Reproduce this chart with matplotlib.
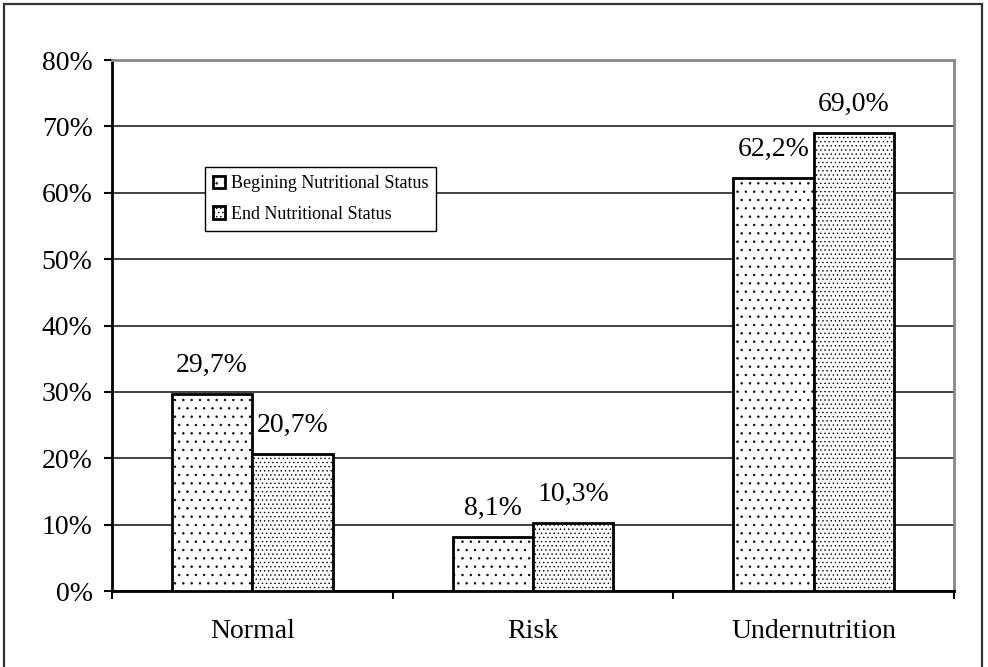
import numpy as np
import matplotlib
matplotlib.use('Agg')
from matplotlib import pyplot as plt
from matplotlib.patches import Rectangle, Patch
from matplotlib.ticker import FixedLocator

plt.rcParams['font.family'] = ['Liberation Serif', 'DejaVu Serif']
plt.rcParams['hatch.linewidth'] = 0.5

categories = ['Normal', 'Risk', 'Undernutrition']
begin_status = [29.7, 8.1, 62.2]
end_status = [20.7, 10.3, 69.0]
series_names = ['Begining Nutritional Status', 'End Nutritional Status']
yticks = [0, 10, 20, 30, 40, 50, 60, 70, 80]

fig = plt.figure(figsize=(9.88, 6.67), dpi=100)
ax = fig.add_axes([0.1134, 0.1139, 0.8522, 0.796])

# outer frame around the figure (bottom edge falls off the page)
fig.patches.append(Rectangle((4/988, -0.05), 982/988 - 4/988, 1.05 - 4/667,
                             transform=fig.transFigure, fill=False,
                             edgecolor='#333333', linewidth=1.6))

x = np.arange(len(categories))
w = 0.2865
b1 = ax.bar(x - w/2, begin_status, w, color='white', edgecolor='black',
            hatch='..', linewidth=2.0, zorder=3)
b2 = ax.bar(x + w/2, end_status, w, color='white', edgecolor='black',
            hatch='....', linewidth=2.0, zorder=3)

for bars, vals in ((b1, begin_status), (b2, end_status)):
    for r, v in zip(bars, vals):
        ax.annotate(('%.1f%%' % v).replace('.', ','),
                    (r.get_x() + r.get_width()/2, v),
                    xytext=(0, 16), textcoords='offset points',
                    ha='center', va='baseline', fontsize=20)

ax.set_xlim(-0.5, 2.5)
ax.set_ylim(0, 80)
ax.set_yticks(yticks)
ax.set_yticklabels(['%d%%' % t for t in yticks], fontsize=20)
ax.set_xticks(x)
ax.set_xticklabels(categories, fontsize=20)
ax.xaxis.set_minor_locator(FixedLocator([-0.5, 0.5, 1.5, 2.5]))
ax.tick_params(axis='x', which='major', length=0, pad=20)
ax.tick_params(axis='x', which='minor', length=6, width=1.5, direction='out')
ax.tick_params(axis='y', length=6, width=1.5, pad=8, direction='out')

ax.yaxis.grid(True, color='#333333', linewidth=1.3, zorder=0)
ax.set_axisbelow(True)
for s in ('left', 'bottom'):
    ax.spines[s].set_color('black')
    ax.spines[s].set_linewidth(2.0)
for s in ('top', 'right'):
    ax.spines[s].set_color('#888888')
    ax.spines[s].set_linewidth(2.0)

handles = [Patch(facecolor='white', edgecolor='black', hatch='..', linewidth=2.0),
           Patch(facecolor='white', edgecolor='black', hatch='....', linewidth=2.0)]
leg = ax.legend(handles, series_names, loc='upper left',
                bbox_to_anchor=(0.110, 0.798), borderaxespad=0,
                fontsize=13, handlelength=0.7, handleheight=0.7,
                handletextpad=0.3, labelspacing=0.75, borderpad=0.45,
                fancybox=False, shadow=False, framealpha=1)
leg.get_frame().set_edgecolor('black')
leg.get_frame().set_linewidth(1.0)

fig.savefig('out.png', dpi=100)
